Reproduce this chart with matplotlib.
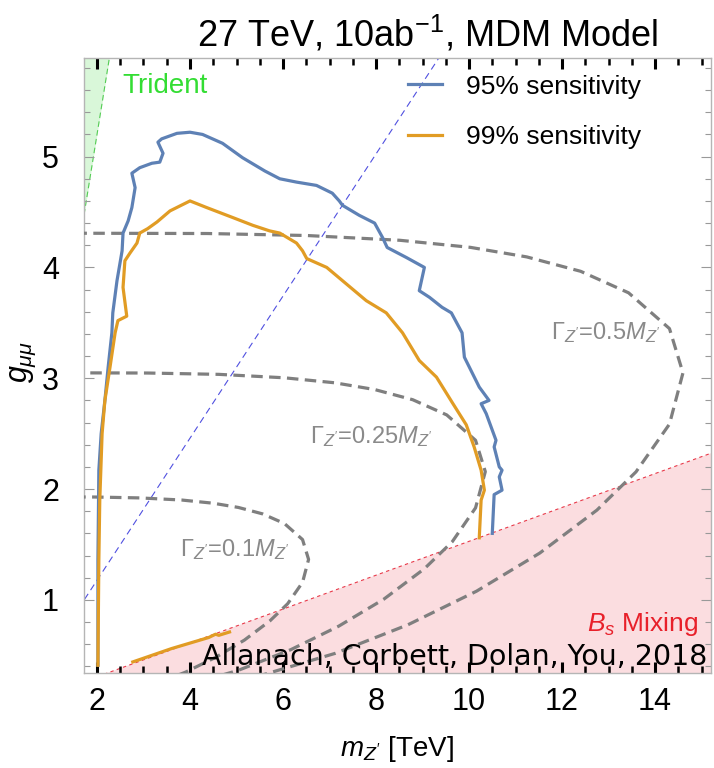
import matplotlib
matplotlib.use('Agg')
import matplotlib.pyplot as plt
from matplotlib.ticker import MultipleLocator

plt.rcParams['font.family'] = ['Liberation Sans', 'DejaVu Sans']
plt.rcParams['mathtext.fontset'] = 'custom'
plt.rcParams['mathtext.rm'] = 'Liberation Sans'
plt.rcParams['mathtext.it'] = 'Liberation Sans:italic'
plt.rcParams['mathtext.bf'] = 'Liberation Sans:bold'

# Sensitivity contours (m_Z' in TeV, g_mumu)
blue_m = [2.02, 2.02, 2.04, 2.09, 2.17, 2.24, 2.32, 2.34, 2.43, 2.54, 2.56, 2.67, 2.75, 2.82, 2.75,
          2.92, 3.18, 3.35, 3.42, 3.31, 3.39, 3.72, 4.00, 4.27, 4.70, 5.13, 5.61, 5.93, 6.29, 6.72,
          7.06, 7.21, 7.28, 7.64, 7.97, 8.14, 8.24, 8.65, 9.04, 8.93, 9.15, 9.42, 9.62, 9.85, 9.90,
          10.22, 10.43, 10.26, 10.37, 10.58, 10.54, 10.65, 10.71, 10.65, 10.71, 10.54, 10.50]
blue_g = [0.41, 1.36, 2.17, 2.50, 2.80, 3.10, 3.41, 3.59, 3.88, 4.15, 4.31, 4.42, 4.54, 4.72, 4.85,
          4.90, 4.94, 4.95, 5.03, 5.13, 5.16, 5.21, 5.22, 5.20, 5.12, 4.99, 4.87, 4.80, 4.77, 4.74,
          4.67, 4.60, 4.56, 4.47, 4.40, 4.27, 4.18, 4.09, 4.00, 3.79, 3.73, 3.64, 3.59, 3.41, 3.19,
          2.92, 2.80, 2.77, 2.68, 2.44, 2.38, 2.20, 2.17, 2.11, 1.99, 1.95, 1.60]

orange_m = [2.02, 2.04, 2.06, 2.11, 2.17, 2.28, 2.39, 2.45, 2.64, 2.56, 2.60, 2.71, 2.86, 2.92, 3.09,
            3.29, 3.57, 4.00, 4.36, 4.92, 5.35, 5.71, 5.93, 6.29, 6.42, 6.51, 6.94, 7.28, 7.79, 8.22,
            8.57, 8.93, 9.30, 9.64, 9.94, 10.11, 10.26, 10.33, 10.26, 10.22]
orange_g = [0.41, 1.36, 1.90, 2.50, 2.80, 3.10, 3.41, 3.52, 3.56, 3.82, 4.06, 4.13, 4.22, 4.31, 4.35,
            4.41, 4.51, 4.60, 4.54, 4.45, 4.38, 4.33, 4.31, 4.22, 4.15, 4.08, 4.00, 3.88, 3.70, 3.59,
            3.41, 3.16, 3.01, 2.78, 2.58, 2.38, 2.17, 1.99, 1.90, 1.56]

orange_tail_m = [2.77, 3.60, 4.40, 4.55, 4.62, 4.85]
orange_tail_g = [0.44, 0.56, 0.66, 0.69, 0.68, 0.71]

# Constant width contours Gamma_Z' = c M_Z'
width_m_01 = [2.27, 3.20, 3.90, 4.56, 5.17, 5.72, 6.10, 6.42, 6.55, 6.42, 6.03, 5.56, 5.04, 4.50, 3.82, 2.92, 1.96, 0.0]
width_g_01 = [0.116, 0.232, 0.347, 0.483, 0.637, 0.811, 0.965, 1.158, 1.365, 1.544, 1.689, 1.776, 1.834, 1.872, 1.901, 1.920, 1.928, 1.93]
width_m_025 = [3.58, 5.05, 6.16, 7.20, 8.17, 9.04, 9.64, 10.14, 10.35, 10.14, 9.52, 8.79, 7.97, 7.11, 6.03, 4.62, 3.09, 0.0]
width_g_025 = [0.183, 0.366, 0.549, 0.763, 1.007, 1.281, 1.525, 1.830, 2.157, 2.440, 2.669, 2.806, 2.898, 2.959, 3.004, 3.035, 3.047, 3.05]
width_m_05 = [5.05, 7.12, 8.69, 10.16, 11.52, 12.75, 13.59, 14.31, 14.60, 14.31, 13.43, 12.40, 11.24, 10.03, 8.51, 6.51, 4.37, 0.0]
width_g_05 = [0.259, 0.517, 0.776, 1.078, 1.422, 1.810, 2.155, 2.586, 3.048, 3.448, 3.771, 3.965, 4.095, 4.181, 4.245, 4.288, 4.306, 4.31]

# Exclusion boundaries
trident_m = [1.60, 2.32]
trident_g = [4.16, 6.03]
bs_m = [0.0, 16.0]
bs_g = [0.0, 2.445]
diag_m = [1.60, 9.60]
diag_g = [0.92, 6.05]

fig = plt.figure(figsize=(7.14, 7.68), dpi=100)
ax = fig.add_axes([0.1176, 0.1237, 0.878, 0.8008])

xmin, xmax = 1.72, 15.2
ymin, ymax = 0.34, 5.89

# shaded regions
ax.fill_between(trident_m, trident_g, 7.0, color='#d9f7d9', zorder=0, lw=0)
ax.plot(trident_m, trident_g, color='#55cc55', lw=0.8, ls=(0, (5, 3)), zorder=1)
ax.fill_between(bs_m, -1.0, bs_g, color='#fbdde0', zorder=0, lw=0)
ax.plot(bs_m, bs_g, color='#e83a4a', lw=0.8, ls=(0, (3, 3)), zorder=1)

ax.plot(diag_m, diag_g, color='#5050e0', lw=0.8, ls=(0, (6, 4)), zorder=2)

gray_dash = dict(color='#7f7f7f', lw=2.3, ls=(0, (3.6, 2.0)), zorder=3)
ax.plot(width_m_01, width_g_01, **gray_dash)
ax.plot(width_m_025, width_g_025, **gray_dash)
ax.plot(width_m_05, width_g_05, **gray_dash)

ax.plot(blue_m, blue_g, color='#5e81b5', lw=2.3, zorder=4, label='95% sensitivity')
ax.plot(orange_m, orange_g, color='#e19c24', lw=2.3, zorder=5, label='99% sensitivity')
ax.plot(orange_tail_m, orange_tail_g, color='#e19c24', lw=2.3, zorder=5)

# labels inside the plot
ax.text(2.54, 5.64, 'Trident', color='#33dd33', fontsize=20, va='center', ha='left')
lab = dict(color='#8a8a8a', fontsize=17, va='center', ha='center')
ax.text(12.94, 3.41, r'$\Gamma_{Z^{\prime}}$=0.5$M_{Z^{\prime}}$', **lab)
ax.text(7.90, 2.47, r'$\Gamma_{Z^{\prime}}$=0.25$M_{Z^{\prime}}$', **lab)
ax.text(4.96, 1.45, r'$\Gamma_{Z^{\prime}}$=0.1$M_{Z^{\prime}}$', **lab)
ax.text(14.94, 0.78, r'$B_s$ Mixing', color='#e8202a', fontsize=19, ha='right', va='center')
ax.text(15.13, 0.48, 'Allanach, Corbett, Dolan, You, 2018', color='black', fontsize=20.5,
        ha='right', va='center', family='DejaVu Sans', zorder=6)

ax.legend(loc='upper left', bbox_to_anchor=(0.50, 0.99), frameon=False, fontsize=19,
          handlelength=1.3, handletextpad=0.9, labelspacing=1.0, borderaxespad=0)

ax.set_xlim(xmin, xmax)
ax.set_ylim(ymin, ymax)
ax.xaxis.set_major_locator(MultipleLocator(2))
ax.xaxis.set_minor_locator(MultipleLocator(0.5))
ax.yaxis.set_major_locator(MultipleLocator(1))
ax.yaxis.set_minor_locator(MultipleLocator(0.2))

ax.tick_params(which='both', direction='in', top=True, right=True, labelsize=22)
ax.tick_params(axis='x', which='major', length=8, width=2.2, color='black', pad=10)
ax.tick_params(axis='x', which='minor', length=5, width=1.8, color='black')
ax.tick_params(axis='y', which='major', length=7, width=0.8, color='#999999', pad=18)
ax.tick_params(axis='y', which='minor', length=4, width=0.8, color='#999999')
for s in ax.spines.values():
    s.set_color('#b5b5b5')
    s.set_linewidth(1.0)

ax.set_xlabel(r'$m_{Z^{\prime}}$ [TeV]', fontsize=20, labelpad=12)
ax.set_ylabel(r'$g_{\mu\mu}$', fontsize=22)
ax.yaxis.set_label_coords(-0.073, 0.506)
ax.set_title(r'27 TeV, 10ab$^{-1}$, MDM Model', fontsize=26, pad=8, x=0.549)

fig.savefig('out.png', dpi=100)
